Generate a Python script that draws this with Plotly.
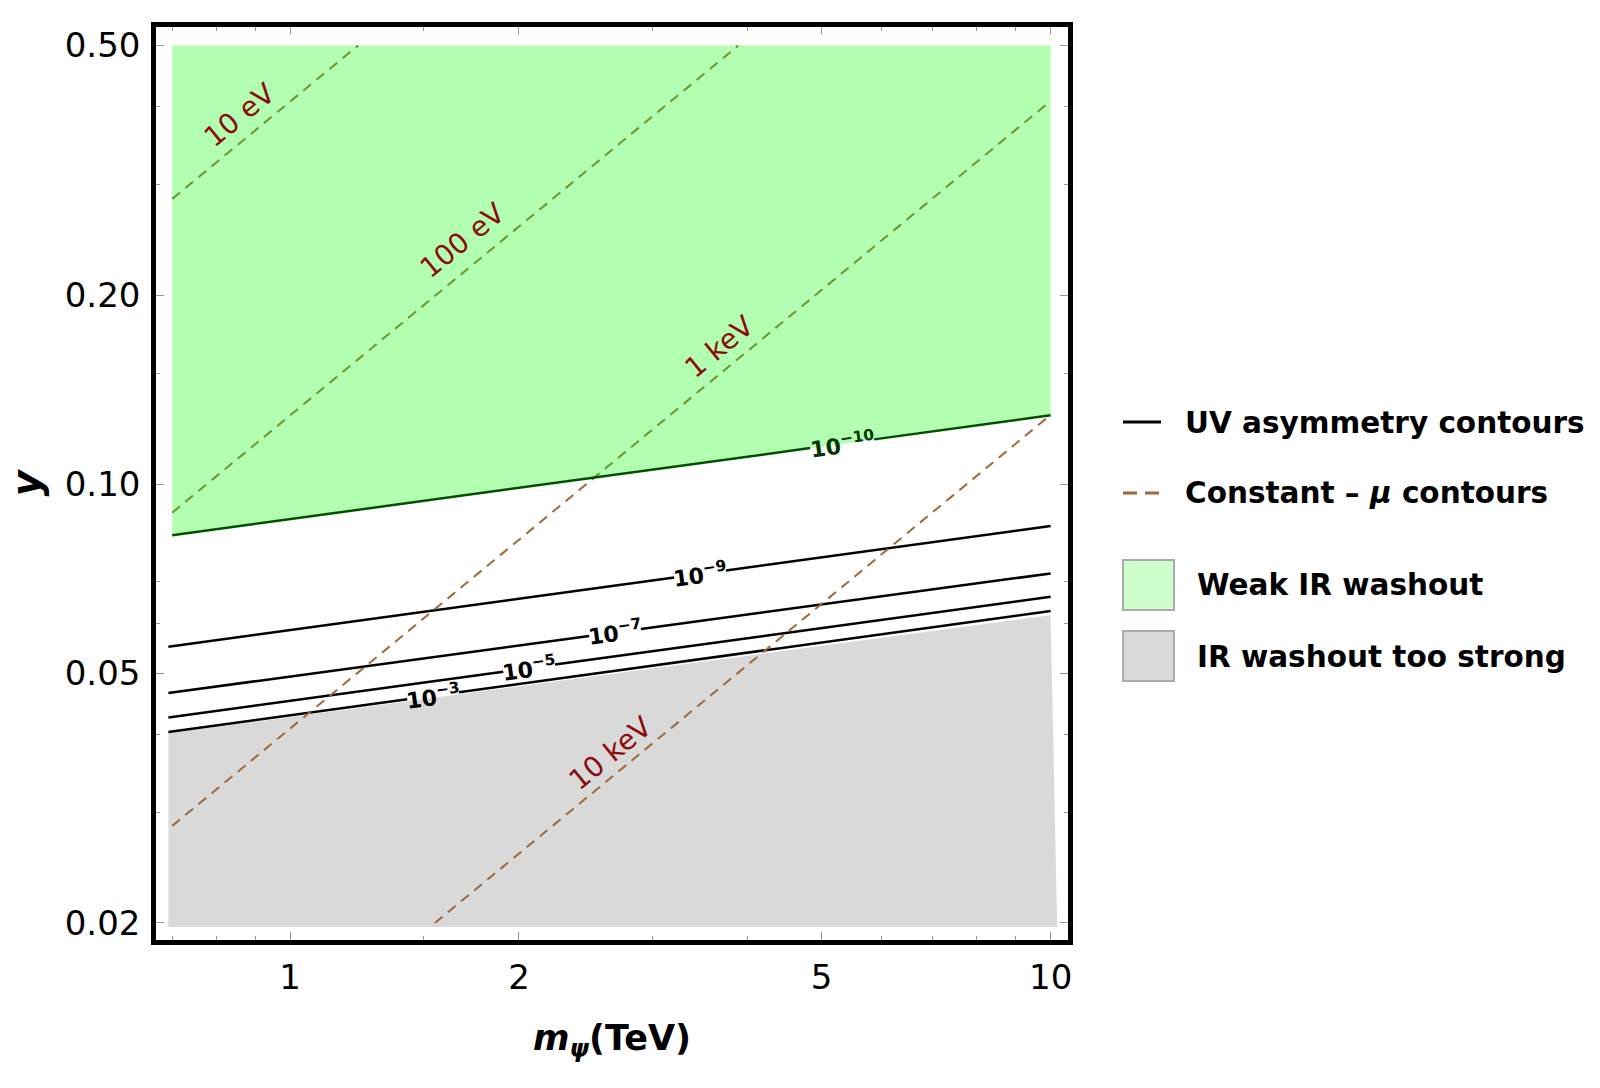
import numpy as np
import plotly.graph_objects as go

# ---------------- data ----------------
m_min, m_max = 0.7, 10.0          # TeV
y_min, y_max = 0.02, 0.5

# UV asymmetry contours: level exponents, y at left (m=0.692) and right (m=10) ends
contour_exponents = ["−10", "−9", "−7", "−5", "−3"]
contour_m_ends = [0.692, 10.0]
contour_y_left = [0.0828, 0.0551, 0.0465, 0.0425, 0.0403]
contour_y_right = [0.1288, 0.0858, 0.0721, 0.0662, 0.0628]
contour_label_m = [5.32, 3.46, 2.675, 2.062, 1.542]

# constant-mu contours: y/m ratio of each straight line
mu_labels = ["10 eV", "100 eV", "1 keV", "10 keV"]
mu_ratio = [0.407, 0.1287, 0.0408, 0.0129]
mu_label_m = [0.857, 1.686, 3.659, 2.635]
mu_label_y = [0.387, 0.2445, 0.1654, 0.0373]

# IR washout too strong region (gray)
gray_m = [0.692, 10.2, 10.0, 0.692]
gray_y = [0.0197, 0.0197, 0.0619, 0.0401]

# x/y ticks
x_tickvals = [1, 2, 5, 10]
x_ticktext = ["1", "2", "5", "10"]
x_minor = [0.7, 0.8, 0.9, 1.5, 3, 4, 6, 7, 8, 9]
y_tickvals = [0.02, 0.05, 0.1, 0.2, 0.5]
y_ticktext = ["0.02", "0.05", "0.10", "0.20", "0.50"]
y_minor = [0.03, 0.04, 0.06, 0.07, 0.15, 0.3, 0.4]

legend_items = ["UV asymmetry contours", "Constant – <i>μ</i> contours", "Weak IR washout", "IR washout too strong"]

# ---------------- styling ----------------
W, H = 1600, 1088
L, R, T, B = 156, 1068, 27, 940   # plot area pixel box
FONT = "DejaVu Sans"
BROWN = "rgb(160,104,56)"
LABEL_RED = "rgb(139,10,10)"

def px(x):
    return (x - L) / (R - L)

def py(y):
    return (B - y) / (B - T)

def interp_log(m, m0, m1, y0, y1):
    f = (np.log10(m) - np.log10(m0)) / (np.log10(m1) - np.log10(m0))
    return 10 ** (np.log10(y0) + f * (np.log10(y1) - np.log10(y0)))

fig = go.Figure()

# gray region
fig.add_trace(go.Scatter(x=gray_m + [gray_m[0]], y=gray_y + [gray_y[0]], mode="lines",
                         fill="toself", fillcolor="rgb(217,217,217)", line=dict(width=0),
                         hoverinfo="skip", showlegend=False))

# black contours (all but the first, which bounds the green region)
gap = [0.042, 0.034, 0.034, 0.034, 0.034]
m0, m1 = contour_m_ends
for i in range(1, len(contour_exponents)):
    lm = contour_label_m[i]
    a = lm / 10 ** gap[i]
    b = lm * 10 ** gap[i]
    xs = [m0, a, None, b, m1]
    ys = [contour_y_left[i], interp_log(a, m0, m1, contour_y_left[i], contour_y_right[i]), None,
          interp_log(b, m0, m1, contour_y_left[i], contour_y_right[i]), contour_y_right[i]]
    fig.add_trace(go.Scatter(x=xs, y=ys, mode="lines", line=dict(color="black", width=2.5),
                             hoverinfo="skip", showlegend=False, connectgaps=False))

# constant-mu dashed lines
for r in mu_ratio:
    lo = max(m_min, y_min / r)
    hi = min(m_max, y_max / r)
    fig.add_trace(go.Scatter(x=[lo, hi], y=[lo * r, hi * r], mode="lines",
                             line=dict(color=BROWN, width=2, dash="10px,7px"),
                             hoverinfo="skip", showlegend=False))

# green region (semi-transparent, drawn over dashed lines)
g_left = interp_log(m_min, m0, m1, contour_y_left[0], contour_y_right[0])
fig.add_trace(go.Scatter(x=[m_min, m_max, m_max, m_min, m_min],
                         y=[g_left, contour_y_right[0], y_max, y_max, g_left],
                         mode="lines", fill="toself", fillcolor="rgba(0,255,0,0.3)",
                         line=dict(width=0), hoverinfo="skip", showlegend=False))

# 10^-10 contour (dark green through the translucent fill)
lm = contour_label_m[0]
a = lm / 10 ** gap[0]
b = lm * 10 ** gap[0]
fig.add_trace(go.Scatter(x=[m_min, a, None, b, m1],
                         y=[g_left,
                            interp_log(a, m0, m1, contour_y_left[0], contour_y_right[0]), None,
                            interp_log(b, m0, m1, contour_y_left[0], contour_y_right[0]),
                            contour_y_right[0]],
                         mode="lines", line=dict(color="rgb(0,80,0)", width=2.5),
                         hoverinfo="skip", showlegend=False, connectgaps=False))

annotations = []
# contour labels
for i, ex in enumerate(contour_exponents):
    lm = contour_label_m[i]
    ly = interp_log(lm, m0, m1, contour_y_left[i], contour_y_right[i])
    txt = "<b>10<sup>" + ex + "</sup></b>"
    annotations.append(dict(x=np.log10(lm), y=np.log10(ly), xref="x", yref="y", text=txt,
                            showarrow=False, textangle=-7.8,
                            font=dict(family=FONT, size=22, color="rgb(0,55,0)" if i == 0 else "black")))
# mu labels
for lab, lxm, lyy in zip(mu_labels, mu_label_m, mu_label_y):
    annotations.append(dict(x=np.log10(lxm), y=np.log10(lyy), xref="x", yref="y", text=lab,
                            showarrow=False, textangle=-39.5,
                            font=dict(family=FONT, size=28, color=LABEL_RED)))

# manual legend
shapes = []
shapes.append(dict(type="line", xref="paper", yref="paper", x0=px(1123), x1=px(1161), y0=py(422), y1=py(422),
                   line=dict(color="black", width=3)))
shapes.append(dict(type="line", xref="paper", yref="paper", x0=px(1123), x1=px(1161), y0=py(493), y1=py(493),
                   line=dict(color=BROWN, width=3, dash="14px,8px")))
shapes.append(dict(type="rect", xref="paper", yref="paper", x0=px(1123), x1=px(1174), y0=py(610), y1=py(560),
                   fillcolor="rgb(204,255,204)", line=dict(color="rgb(170,170,170)", width=2)))
shapes.append(dict(type="rect", xref="paper", yref="paper", x0=px(1123), x1=px(1174), y0=py(681), y1=py(631),
                   fillcolor="rgb(217,217,217)", line=dict(color="rgb(170,170,170)", width=2)))
leg_x = [1183, 1183, 1195, 1195]
leg_y = [423, 493, 585, 657]
for txt, lx, ly in zip(legend_items, leg_x, leg_y):
    annotations.append(dict(x=px(lx), y=py(ly), xref="paper", yref="paper", text="<b>" + txt + "</b>",
                            showarrow=False, xanchor="left", yanchor="middle",
                            font=dict(family=FONT, size=29.5, color="black")))

axis_common = dict(type="log", showgrid=False, zeroline=False, showline=True, linewidth=4.5,
                   linecolor="black", mirror="allticks", ticks="inside", ticklen=8, tickwidth=1,
                   tickcolor="rgb(150,150,150)", tickfont=dict(family=FONT, size=34, color="black"))

fig.update_layout(
    width=W, height=H,
    margin=dict(l=L, r=W - R, t=T, b=H - B),
    paper_bgcolor="white", plot_bgcolor="white",
    showlegend=False,
    xaxis=dict(axis_common, range=[np.log10(0.6665), np.log10(10.54)], tickmode="array",
               tickvals=x_tickvals, ticktext=x_ticktext, ticklabelstandoff=3,
               minor=dict(tickmode="array", tickvals=x_minor, ticklen=4, tickcolor="rgb(150,150,150)", ticks="inside"),
               title=dict(text="<b><i>m</i><sub><i>ψ</i></sub>(TeV)</b>", font=dict(family=FONT, size=35, color="black"),
                          standoff=31)),
    yaxis=dict(axis_common, range=[np.log10(0.01879), np.log10(0.5352)], tickmode="array",
               tickvals=y_tickvals, ticktext=y_ticktext, ticklabelstandoff=4,
               minor=dict(tickmode="array", tickvals=y_minor, ticklen=4, tickcolor="rgb(150,150,150)", ticks="inside"),
               title=dict(text="<b><i>y</i></b>", font=dict(family=FONT, size=40, color="black"), standoff=13)),
    annotations=annotations,
    shapes=shapes,
)

fig.write_html("out.html")
